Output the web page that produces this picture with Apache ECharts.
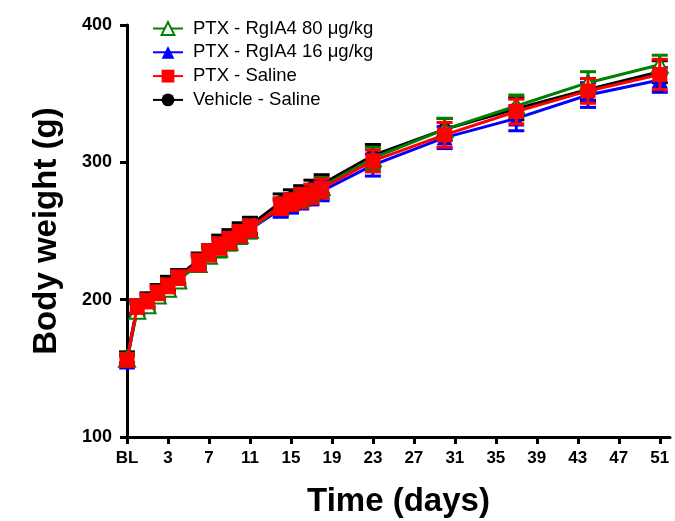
<!DOCTYPE html>
<html>
<head>
<meta charset="utf-8">
<script src="https://cdn.jsdelivr.net/npm/echarts@6/dist/echarts.min.js"></script>
<style>html,body{margin:0;padding:0;background:#fff}#c{width:675px;height:521px}</style>
</head>
<body>
<div id="c"></div>
<script>
// Days of measurement (BL = baseline, drawn at -1)
const days = [-1, 0, 1, 2, 3, 4, 6, 7, 8, 9, 10, 11, 14, 15, 16, 17, 18, 23, 30, 37, 44, 51];
const tickDays = [-1, 3, 7, 11, 15, 19, 23, 27, 31, 35, 39, 43, 47, 51];
const tickLabels = ['BL', '3', '7', '11', '15', '19', '23', '27', '31', '35', '39', '43', '47', '51'];
const yTicks = [100, 200, 300, 400];

const names = ['PTX - RgIA4 80 μg/kg', 'PTX - RgIA4 16 μg/kg', 'PTX - Saline', 'Vehicle - Saline'];

const green80 = [157, 192, 196, 203, 208, 214, 226, 232, 237, 242, 247, 251, 268, 271, 274, 278, 282, 303, 324, 341, 358, 371];
const green80Err = [4, 5, 5, 5, 5, 5, 5, 5, 6, 6, 6, 6, 6, 6, 6, 6, 7, 8, 8, 8, 8, 7];
const blue16 = [155, 194, 198, 204, 209, 215, 227, 233, 239, 243, 247, 251, 266, 269, 272, 275, 279, 298, 318, 332, 349, 360];
const blue16Err = [4, 5, 5, 5, 5, 5, 5, 5, 6, 6, 6, 6, 6, 6, 6, 6, 7, 8, 8, 9, 9, 9];
const redSal = [156, 195, 199, 205, 210, 216, 227, 234, 239, 243, 248, 252, 268, 271, 274, 277, 281, 301, 320, 337, 352, 364];
const redSalErr = [4, 5, 5, 5, 5, 5, 6, 6, 6, 6, 6, 6, 6, 6, 7, 7, 7, 8, 9, 9, 9, 11];
const blackVeh = [158, 195, 200, 206, 212, 217, 229, 235, 241, 245, 250, 254, 271, 274, 277, 281, 284, 305, 324, 339, 353, 366];
const blackVehErr = [4, 5, 5, 5, 5, 5, 5, 5, 6, 6, 6, 6, 6, 6, 6, 6, 7, 8, 8, 8, 8, 8];

const FONT = 'Liberation Sans, Arial, sans-serif';

const groups = [
  {name: names[3], vals: blackVeh, err: blackVehErr, color: '#000000', symbol: 'circle', size: 14, z: 2},
  {name: names[1], vals: blue16, err: blue16Err, color: '#0000ff', symbol: 'triangle', size: 16, z: 4},
  {name: names[0], vals: green80, err: green80Err, color: '#008000', symbol: 'emptyTriangle', size: 16, z: 6},
  {name: names[2], vals: redSal, err: redSalErr, color: '#ff0000', symbol: 'rect', size: 15, z: 8}
];

const series = [];
groups.forEach((g, gi) => {
  series.push({
    name: 'err' + gi,
    type: 'custom',
    z: g.z,
    silent: true,
    data: days.map((d, i) => [d, g.vals[i] - g.err[i], g.vals[i] + g.err[i]]),
    renderItem: function (params, api) {
      const x = api.value(0);
      const lo = api.coord([x, api.value(1)]);
      const hi = api.coord([x, api.value(2)]);
      const hw = 8;
      const st = {stroke: g.color, lineWidth: 3};
      return {
        type: 'group',
        children: [
          {type: 'line', shape: {x1: lo[0], y1: lo[1], x2: hi[0], y2: hi[1]}, style: st},
          {type: 'line', shape: {x1: lo[0] - hw, y1: lo[1], x2: lo[0] + hw, y2: lo[1]}, style: st},
          {type: 'line', shape: {x1: hi[0] - hw, y1: hi[1], x2: hi[0] + hw, y2: hi[1]}, style: st}
        ]
      };
    }
  });
  const empty = g.symbol === 'emptyTriangle';
  series.push({
    name: g.name,
    type: 'line',
    z: g.z + 1,
    data: days.map((d, i) => [d, g.vals[i]]),
    symbol: g.symbol,
    symbolSize: g.size,
    showAllSymbol: true,
    lineStyle: {color: g.color, width: 3},
    itemStyle: {color: g.color, borderColor: g.color, borderWidth: empty ? 2.5 : 0},
    emphasis: {disabled: true},
    animation: false
  });
});

const chart = echarts.init(document.getElementById('c'), null, {renderer: 'canvas'});
chart.setOption({
  animation: false,
  backgroundColor: '#ffffff',
  grid: {left: 127, right: 5, top: 25, bottom: 84, containLabel: false, outerBoundsMode: 'none'},
  legend: {
    data: names,
    orient: 'vertical',
    left: 147,
    top: 14,
    itemWidth: 30,
    itemHeight: 16,
    itemGap: 4.8,
    textStyle: {fontFamily: FONT, fontSize: 18.5, color: '#000', padding: [0, 0, 0, 5]},
    selectedMode: false
  },
  xAxis: {
    type: 'value',
    min: -1,
    max: 52,
    name: 'Time (days)',
    nameLocation: 'middle',
    nameGap: 48,
    nameTextStyle: {fontFamily: FONT, fontSize: 33, fontWeight: 'bold', color: '#000'},
    axisLine: {onZero: false, lineStyle: {color: '#000', width: 3}},
    axisTick: {show: true, length: 7, lineStyle: {color: '#000', width: 3}, customValues: tickDays},
    axisLabel: {
      customValues: tickDays,
      margin: 13,
      fontFamily: FONT, fontSize: 17, fontWeight: 'bold', color: '#000',
      formatter: function (v) { const i = tickDays.indexOf(v); return i >= 0 ? tickLabels[i] : ''; }
    },
    splitLine: {show: false}
  },
  yAxis: {
    type: 'value',
    min: 100,
    max: 400,
    interval: 100,
    name: 'Body weight (g)',
    nameLocation: 'middle',
    nameGap: 64,
    nameTextStyle: {fontFamily: FONT, fontSize: 33, fontWeight: 'bold', color: '#000'},
    axisLine: {show: true, onZero: false, lineStyle: {color: '#000', width: 3}},
    axisTick: {show: true, length: 7, lineStyle: {color: '#000', width: 3}},
    axisLabel: {margin: 15, fontFamily: FONT, fontSize: 18, fontWeight: 'bold', color: '#000',
      formatter: function (v) { return yTicks.indexOf(v) >= 0 ? String(v) : ''; }},
    splitLine: {show: false}
  },
  series: series
});
</script>
</body>
</html>
